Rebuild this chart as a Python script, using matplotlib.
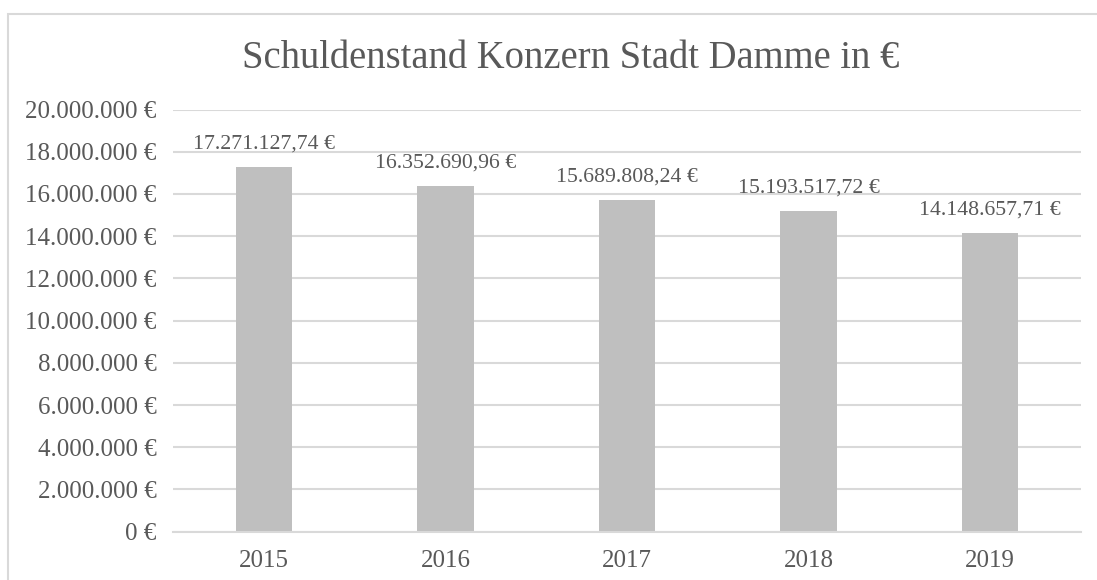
import matplotlib.pyplot as plt
from matplotlib.patches import Rectangle

years = ['2015', '2016', '2017', '2018', '2019']
debt = [17271127.74, 16352690.96, 15689808.24, 15193517.72, 14148657.71]
yticks = [0, 2e6, 4e6, 6e6, 8e6, 10e6, 12e6, 14e6, 16e6, 18e6, 20e6]


def euro(v, decimals=0):
    s = f"{v:,.{decimals}f}"
    s = s.replace(',', 'X').replace('.', ',').replace('X', '.')
    return s + ' €'


plt.rcParams['font.family'] = ['Liberation Serif', 'DejaVu Serif']
text_col = '#595959'
grid_col = '#D9D9D9'

fig = plt.figure(figsize=(10.97, 5.80), dpi=100)
ax = fig.add_axes([0.1577, 0.0833, 0.8277, 0.7279])

x = range(len(years))
ax.bar(x, debt, width=0.31, color='#BFBFBF', zorder=2)

for xi, v in zip(x, debt):
    ax.annotate(euro(v, 2), (xi, v), xytext=(0, 10), textcoords='offset points',
                ha='center', va='bottom', fontsize=15.7, color=text_col)

ax.set_xlim(-0.5, len(years) - 0.5)
ax.set_ylim(0, 20e6)
ax.set_yticks(yticks)
ax.set_yticklabels([euro(t) for t in yticks])
ax.set_xticks(list(x))
ax.set_xticklabels(years)
ax.tick_params(axis='y', length=0, pad=12, labelsize=18, labelcolor=text_col)
ax.tick_params(axis='x', length=0, pad=13, labelsize=18, labelcolor=text_col)
ax.grid(axis='y', color=grid_col, linewidth=1.5, zorder=0)
for s in ['top', 'right', 'left']:
    ax.spines[s].set_visible(False)
ax.spines['bottom'].set_color(grid_col)
ax.spines['bottom'].set_linewidth(1.5)

fig.text(0.52, 0.9, 'Schuldenstand Konzern Stadt Damme in €', ha='center', va='center',
         fontsize=27.8, color=text_col)

# chart border
fig.patches.append(Rectangle((8 / 1097, -0.05), 1.2, 1 - 13.5 / 580 + 0.05,
                             transform=fig.transFigure, fill=False,
                             edgecolor=grid_col, linewidth=1.5))

fig.savefig('out.png', dpi=100)
